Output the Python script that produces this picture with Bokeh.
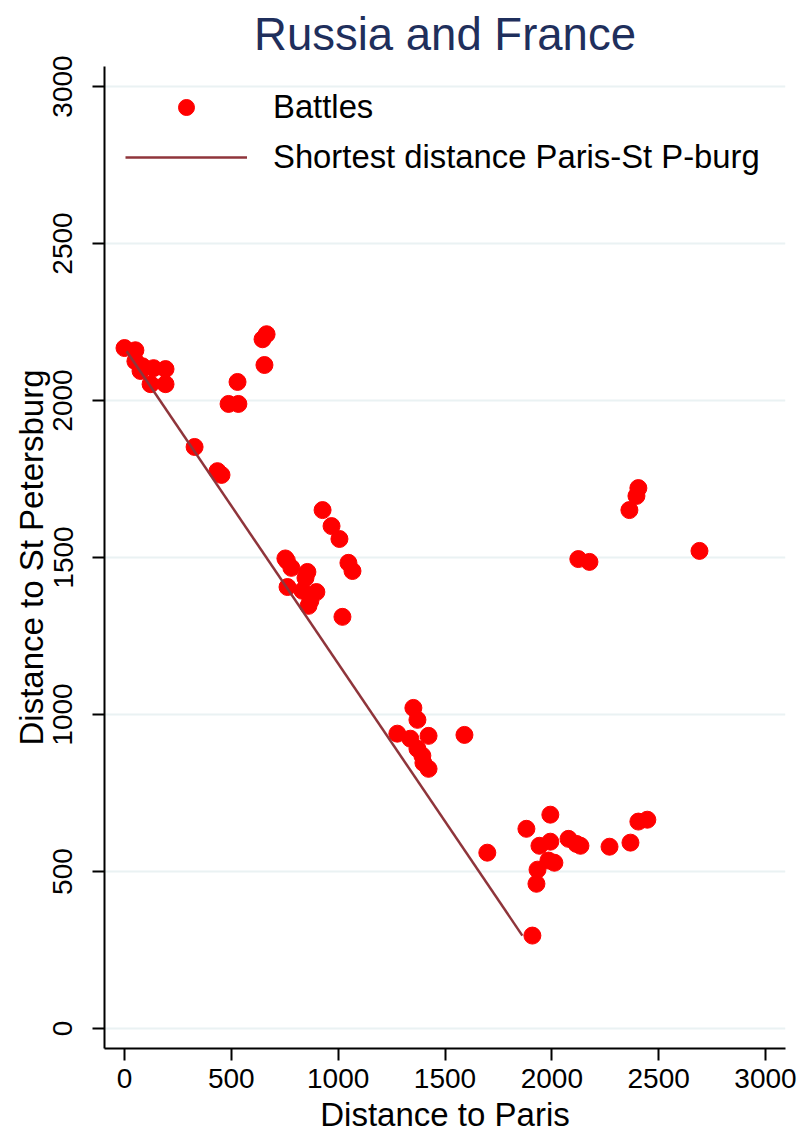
from bokeh.plotting import figure
from bokeh.models import Range1d, FixedTicker, Legend, LegendItem
from bokeh.embed import file_html
from bokeh.resources import INLINE

# Battles: distance to Paris (km) and distance to St Petersburg (km)
battle_paris = [0, 51, 51, 84, 136, 192, 122, 192, 75,
                646, 665, 655, 529, 487, 533, 328, 435, 454,
                927, 969, 1006, 753, 760, 781, 856, 847, 763, 833, 898, 861, 870,
                1048, 1067, 1020,
                1352, 1371, 1277, 1338, 1423, 1591, 1371, 1394, 1399, 1423,
                1698, 1881, 1993, 1942, 1993, 1984, 2012, 1933, 1928,
                2078, 2134, 2115, 2270, 2368, 2405, 2447, 1909,
                2405, 2396, 2363, 2124, 2176, 2691]
battle_stp = [2167, 2160, 2125, 2109, 2103, 2100, 2052, 2052, 2094,
              2195, 2211, 2113, 2059, 1989, 1989, 1852, 1775, 1763,
              1651, 1600, 1559, 1497, 1490, 1467, 1454, 1435, 1406, 1394, 1390, 1346, 1362,
              1483, 1457, 1311,
              1021, 983, 939, 923, 932, 935, 891, 869, 846, 827,
              560, 636, 681, 582, 595, 535, 528, 506, 461,
              604, 582, 588, 579, 592, 659, 665, 296,
              1721, 1696, 1651, 1495, 1486, 1521]

# Shortest distance line Paris - St Petersburg
line_paris = [10, 1862]
line_stp = [2157, 296]

x_ticks = [0, 500, 1000, 1500, 2000, 2500, 3000]
y_ticks = [0, 500, 1000, 1500, 2000, 2500, 3000]

FONT = "Liberation Sans"

p = figure(width=811, height=1135, output_backend="svg", toolbar_location=None,
           x_range=Range1d(-93.6, 3093.6), y_range=Range1d(-63.6, 3063.6),
           min_border_left=104, min_border_right=26, min_border_top=65, min_border_bottom=87)

p.title.text = "Russia and France"
p.title.text_font = FONT
p.title.text_font_size = "45.5px"
p.title.text_font_style = "normal"
p.title.text_color = "#1f2f5c"
p.title.align = "center"
p.title.offset = 0
p.title.standoff = 13

p.outline_line_color = None
p.background_fill_color = "white"
p.border_fill_color = "white"

p.xgrid.visible = False
p.ygrid.ticker = FixedTicker(ticks=y_ticks)
p.ygrid.grid_line_color = "#eaf2f3"
p.ygrid.grid_line_width = 2

for ax in (p.xaxis[0], p.yaxis[0]):
    ax.axis_line_width = 2
    ax.axis_line_color = "black"
    ax.major_tick_line_width = 2
    ax.major_tick_line_color = "black"
    ax.major_tick_out = 12
    ax.major_tick_in = 0
    ax.minor_tick_line_color = None
    ax.major_label_text_font = FONT
    ax.major_label_text_font_size = "28px"
    ax.major_label_text_color = "black"
    ax.axis_label_text_font = FONT
    ax.axis_label_text_font_size = "33px"
    ax.axis_label_text_font_style = "normal"
    ax.axis_label_text_color = "black"

p.xaxis.ticker = FixedTicker(ticks=x_ticks)
p.yaxis.ticker = FixedTicker(ticks=y_ticks)
p.xaxis.axis_label = "Distance to Paris"
p.yaxis.axis_label = "Distance to St Petersburg"
p.yaxis.major_label_orientation = "vertical"
p.xaxis.major_label_standoff = 8
p.yaxis.major_label_standoff = 20
p.xaxis.axis_label_standoff = 5
p.yaxis.axis_label_standoff = 1

pts = p.scatter(battle_paris, battle_stp, size=17, color="#ff0000", line_color="#ff0000")
ln = p.line(line_paris, line_stp, line_color="#8f353b", line_width=2.5)

legend = Legend(items=[LegendItem(label="Battles", renderers=[pts]),
                       LegendItem(label="Shortest distance Paris-St P-burg", renderers=[ln])],
                location="top_left")
legend.border_line_color = None
legend.background_fill_alpha = 0
legend.margin = 21
legend.padding = 0
legend.spacing = 10
legend.glyph_width = 122
legend.glyph_height = 40
legend.label_height = 40
legend.label_standoff = 26
legend.label_text_font = FONT
legend.label_text_font_size = "32.8px"
legend.label_text_color = "black"
p.add_layout(legend)

open("out.html", "w").write(file_html(p, INLINE))
